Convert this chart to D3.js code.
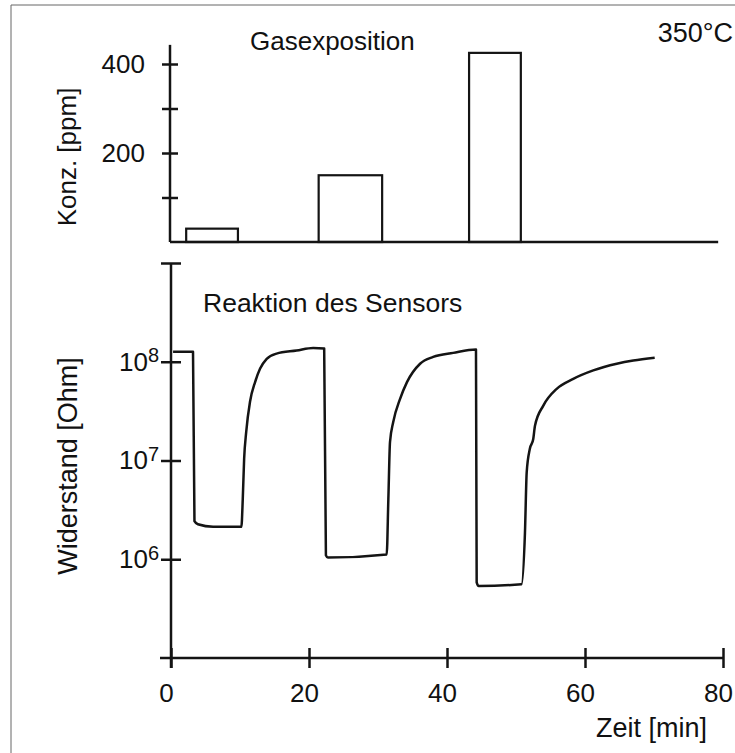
<!DOCTYPE html>
<html><head><meta charset="utf-8">
<script src="https://cdn.jsdelivr.net/npm/d3@7"></script>
<style>
body{margin:0;background:#fff}
svg{display:block}
text{font-family:"Liberation Sans",Arial,Helvetica,sans-serif;fill:#111}
</style>
</head><body>
<svg id="c" width="735" height="753"></svg>
<script>
// ---- data ----
const timeMin = [0.3, 3.19, 3.4, 3.9, 6.1, 10.2, 10.4, 10.6, 10.9, 11.45, 12.2, 12.9, 13.87, 15.3, 18.2, 20.6, 22.2,
  22.45, 22.75, 31.26, 31.5, 31.74, 32.2, 33.2, 34.2, 36.1, 38.0, 40.9, 44.2,
  44.3, 44.6, 50.8, 51.3, 51.55, 52.0, 52.5, 52.75, 53.96, 55.9, 58.3, 61.2, 64.6, 67.0, 70.1];
const resistanceOhm = [1.26e8, 1.26e8, 2.43e6, 2.26e6, 2.13e6, 2.13e6, 4.06e6, 1.04e7, 1.95e7, 3.93e7, 6.27e7, 8.49e7, 1.07e8, 1.21e8, 1.30e8, 1.38e8, 1.36e8,
  1.10e6, 1.04e6, 1.12e6, 4.06e6, 1.54e7, 2.44e7, 4.21e7, 6.22e7, 9.55e7, 1.12e8, 1.23e8, 1.33e8,
  5.83e5, 5.36e5, 5.57e5, 1.87e6, 7.59e6, 1.31e7, 1.65e7, 2.25e7, 3.60e7, 5.32e7, 6.71e7, 8.17e7, 9.55e7, 1.03e8, 1.10e8];
const exposureStart = [2.2, 21.4, 43.2];
const exposureEnd = [9.7, 30.6, 50.7];
const concentrationPpm = [30, 150, 425];
const timeTicks = [0, 20, 40, 60, 80];
const concTicks = [100, 200, 300, 400];
const concLabelled = [200, 400];
const resTicks = [1e6, 1e7, 1e8, 1e9];
const resLabelled = [1e6, 1e7, 1e8];

const svg = d3.select("#c");
const ink = "#141414";
const FONT = '"Liberation Sans",Arial,Helvetica,sans-serif';

// frame
svg.append("line").attr("x1", 11).attr("y1", 5).attr("x2", 735).attr("y2", 5).attr("stroke", "#666").attr("stroke-width", 1);
svg.append("line").attr("x1", 11).attr("y1", 5).attr("x2", 11).attr("y2", 753).attr("stroke", "#666").attr("stroke-width", 1);

// scales
const x = d3.scaleLinear().domain([0, 80]).range([171, 723]);
const yc = d3.scaleLinear().domain([0, 400]).range([242, 64]);
const yr = d3.scaleLog().domain([1e5, 1e9]).range([658, 263]);

function styleAxis(g) {
  g.select(".domain").remove();
  g.selectAll(".tick line").attr("stroke", ink).attr("stroke-width", 2.5);
  g.selectAll(".tick text").attr("font-family", FONT).attr("font-size", 26).attr("fill", ink);
}

// ---------- top panel ----------
const topG = svg.append("g");
topG.append("line").attr("x1", x(0) - 1).attr("x2", x(0) - 1).attr("y1", yc(443)).attr("y2", yc(0))
  .attr("stroke", ink).attr("stroke-width", 2.5);
topG.append("line").attr("x1", x(0) - 1).attr("x2", x(79.3)).attr("y1", yc(0)).attr("y2", yc(0))
  .attr("stroke", ink).attr("stroke-width", 2.5);
topG.append("g").attr("transform", `translate(${x(0) - 1},0)`)
  .call(d3.axisLeft(yc).tickValues(concTicks).tickSize(8).tickPadding(17)
    .tickFormat(d => concLabelled.includes(d) ? d : ""))
  .call(styleAxis);
topG.append("g").attr("transform", `translate(${x(0) - 1},0)`)
  .call(d3.axisRight(yc).tickValues(concTicks).tickSize(8).tickFormat(""))
  .call(styleAxis);

topG.selectAll("rect.bar").data(concentrationPpm).join("rect").attr("class", "bar")
  .attr("x", (d, i) => x(exposureStart[i]))
  .attr("width", (d, i) => x(exposureEnd[i]) - x(exposureStart[i]))
  .attr("y", d => yc(d))
  .attr("height", d => yc(0) - yc(d))
  .attr("fill", "none").attr("stroke", ink).attr("stroke-width", 2.2);

topG.append("text").attr("x", 250).attr("y", 50).attr("font-size", 26).text("Gasexposition");
topG.append("text").attr("x", 733).attr("y", 42).attr("font-size", 27).attr("text-anchor", "end").text("350°C");
topG.append("text").attr("transform", "translate(76,157) rotate(-90)").attr("text-anchor", "middle")
  .attr("font-size", 26).text("Konz. [ppm]");

// ---------- bottom panel ----------
const botG = svg.append("g");
botG.append("line").attr("x1", x(0)).attr("x2", x(0)).attr("y1", yr(1e9)).attr("y2", yr(1e5) + 10)
  .attr("stroke", ink).attr("stroke-width", 2.5);
botG.append("line").attr("x1", x(0) - 11).attr("x2", x(80)).attr("y1", yr(1e5)).attr("y2", yr(1e5))
  .attr("stroke", ink).attr("stroke-width", 2.5);

const yAxL = botG.append("g").attr("transform", `translate(${x(0)},0)`)
  .call(d3.axisLeft(yr).tickValues(resTicks).tickSize(10).tickPadding(2).tickFormat(d => resLabelled.includes(d) ? "10" : ""))
  .call(styleAxis);
yAxL.selectAll(".tick text").each(function (d) {
  if (!resLabelled.includes(d)) return;
  d3.select(this).append("tspan").attr("dy", "-0.42em").attr("font-size", 20).text(Math.round(Math.log10(d)));
});
botG.append("g").attr("transform", `translate(${x(0)},0)`)
  .call(d3.axisRight(yr).tickValues(resTicks).tickSize(10).tickFormat(""))
  .call(styleAxis);

const xAxB = botG.append("g").attr("transform", `translate(0,${yr(1e5)})`)
  .call(d3.axisBottom(x).tickValues(timeTicks).tickSize(10).tickPadding(16))
  .call(styleAxis);
xAxB.selectAll(".tick text").attr("dx", -5);
botG.append("g").attr("transform", `translate(0,${yr(1e5)})`)
  .call(d3.axisTop(x).tickValues(timeTicks).tickSize(10).tickFormat(""))
  .call(styleAxis);

const pts = timeMin.map((t, i) => [t, resistanceOhm[i]]);
botG.append("path").datum(pts)
  .attr("d", d3.line().x(d => x(d[0])).y(d => yr(d[1])).curve(d3.curveMonotoneX))
  .attr("fill", "none").attr("stroke", ink).attr("stroke-width", 2.5).attr("stroke-linejoin", "round");

botG.append("text").attr("x", 203).attr("y", 312).attr("font-size", 26.5).text("Reaktion des Sensors");
botG.append("text").attr("x", 707).attr("y", 737).attr("font-size", 27).attr("text-anchor", "end").text("Zeit [min]");
botG.append("text").attr("transform", "translate(77,466) rotate(-90)").attr("text-anchor", "middle")
  .attr("font-size", 27).text("Widerstand [Ohm]");
</script>
</body></html>
